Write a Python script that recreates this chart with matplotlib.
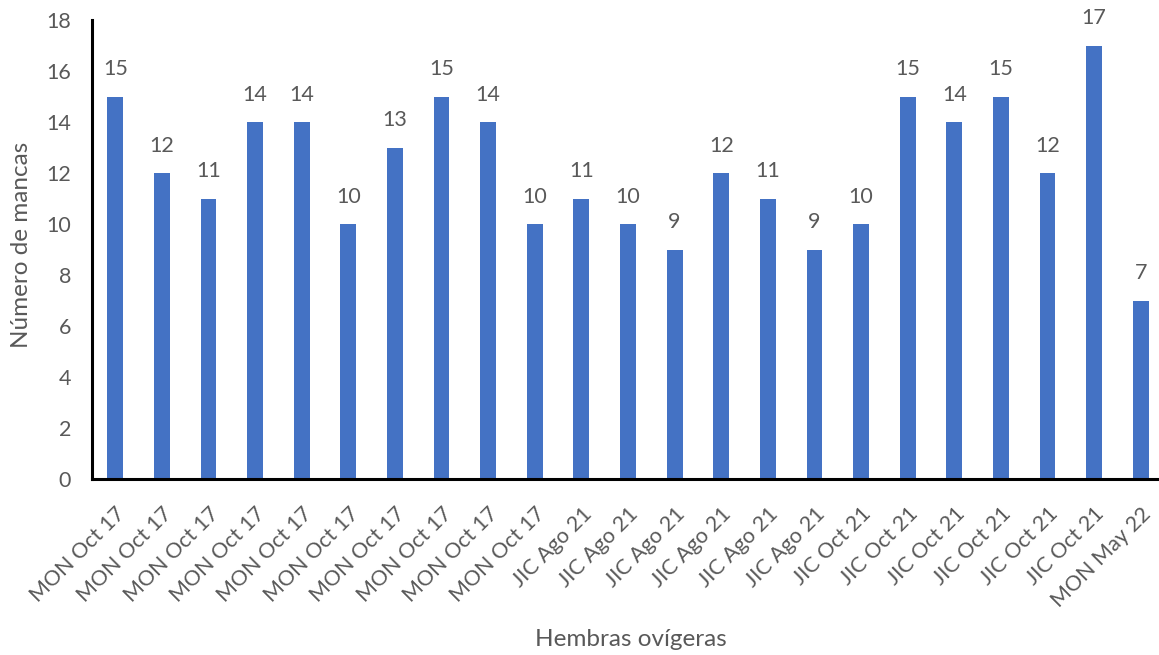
import matplotlib
matplotlib.use("Agg")
import matplotlib.pyplot as plt

categories = (["MON Oct 17"] * 10 + ["JIC Ago 21"] * 6 +
              ["JIC Oct 21"] * 6 + ["MON May 22"])
values = [15, 12, 11, 14, 14, 10, 13, 15, 14, 10,
          11, 10, 9, 12, 11, 9,
          10, 15, 14, 15, 12, 17,
          7]
yticks = list(range(0, 19, 2))

plt.rcParams['font.family'] = ['Lato', 'DejaVu Sans']
grey = '#595959'
blue = '#4472C4'

W, H = 1159, 655
fig = plt.figure(figsize=(W / 100, H / 100), dpi=100)
left, right, top, bottom = 92, 1164, 20, 479
ax = fig.add_axes([left / W, 1 - bottom / H, (right - left) / W, (bottom - top) / H])

x = list(range(len(values)))
ax.bar(x, values, width=0.34, color=blue, zorder=2)
for xi, v in zip(x, values):
    ax.text(xi, v + 0.68, str(v), ha='center', va='bottom', fontsize=15.5, color=grey)

ax.set_xlim(-0.5, len(values) - 0.5)
ax.set_ylim(0, 18)
ax.set_yticks(yticks)
ax.set_xticks(x)
ax.set_xticklabels(categories, rotation=45, ha='right', rotation_mode='anchor')
ax.tick_params(axis='both', length=0, labelsize=15.5, labelcolor=grey)
ax.tick_params(axis='y', pad=15)
ax.tick_params(axis='x', pad=18)

for s in ['top', 'right']:
    ax.spines[s].set_visible(False)
for s in ['left', 'bottom']:
    ax.spines[s].set_linewidth(2.2)
    ax.spines[s].set_color('black')

fig.text(22 / W, 1 - 245 / H, 'Número de mancas', ha='center', va='center',
         rotation=90, fontsize=17.5, color=grey)
fig.text(631 / W, 1 - 639 / H, 'Hembras ovígeras', ha='center', va='center',
         fontsize=17.5, color=grey)

fig.savefig('out.png', dpi=100, facecolor='white')
